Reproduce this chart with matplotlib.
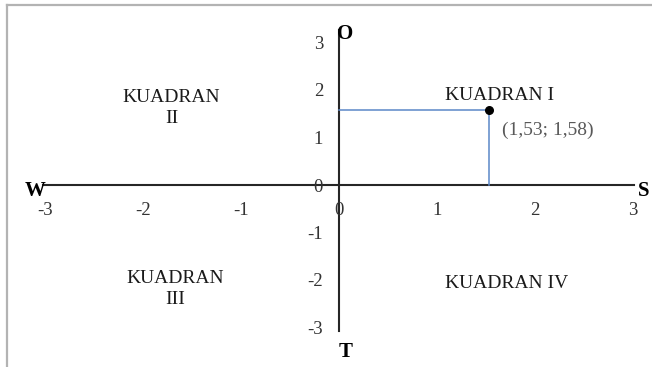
import matplotlib
matplotlib.use("Agg")
import matplotlib.pyplot as plt
from matplotlib.lines import Line2D
from matplotlib.transforms import ScaledTranslation

# Data
x_ticks = [-3, -2, -1, 0, 1, 2, 3]
y_ticks = [-3, -2, -1, 0, 1, 2, 3]
point_x = [1.53]
point_y = [1.58]
point_label = "(1,53; 1,58)"
quadrant_labels = ["KUADRAN I", "KUADRAN\nII", "KUADRAN\nIII", "KUADRAN IV"]
quadrant_pos = [(1.64, 1.89), (-1.71, 1.62), (-1.67, -2.19), (1.71, -2.07)]
dir_labels = ["W", "S", "O", "T"]

plt.rcParams['font.family'] = ['Liberation Serif', 'DejaVu Serif']

W, H = 652, 367
fig = plt.figure(figsize=(W / 100, H / 100), dpi=100)
ax = fig.add_axes([0, 0, 1, 1])

# scale: origin at pixel (339,185); 98 px per x unit, 47.5 px per y unit
ox, oy, sx, sy = 339, 185, 98.0, 47.5
ax.set_xlim(-ox / sx, (W - ox) / sx)
ax.set_ylim(-(H - oy) / sy, oy / sy)

for s in ['top', 'right']:
    ax.spines[s].set_visible(False)
ax.spines['left'].set_position('zero')
ax.spines['bottom'].set_position('zero')
ax.spines['left'].set_bounds(-3.07, 3.26)
ax.spines['bottom'].set_bounds(-3.02, 3.01)
for s in ['left', 'bottom']:
    ax.spines[s].set_color('#262626')
    ax.spines[s].set_linewidth(1.5)
    ax.spines[s].set_zorder(1)

ax.set_xticks(x_ticks)
ax.set_yticks(y_ticks)
ax.set_xticklabels([str(v) for v in x_ticks])
ax.set_yticklabels([str(v) for v in y_ticks])
ax.tick_params(axis='x', length=0, pad=12.5, labelsize=13.5, labelcolor='#333333')
ax.tick_params(axis='y', length=0, pad=11.5, labelsize=13.5, labelcolor='#333333')
ax.patch.set_alpha(0)

# Guide lines to the point
ax.plot([0, point_x[0]], [point_y[0], point_y[0]], color='#5b87c8', lw=1.1, zorder=2)
ax.plot([point_x[0], point_x[0]], [0, point_y[0]], color='#5b87c8', lw=1.1, zorder=2)
ax.scatter(point_x, point_y, s=30, color='black', zorder=3)
ax.annotate(point_label, (point_x[0], point_y[0]), xytext=(9.5, -15),
            textcoords='offset points', ha='left', va='center',
            fontsize=14, color='#595959')

for lab, (qx, qy) in zip(quadrant_labels, quadrant_pos):
    ax.text(qx, qy, lab, ha='center', va='center', fontsize=14,
            color='#1a1a1a', linespacing=1.35)

# Direction labels
ax.text(-3.02, 0, "W", ha='right', va='center', fontsize=15, fontweight='bold',
        transform=ax.transData + ScaledTranslation(0.03, -0.06, fig.dpi_scale_trans))
ax.text(3.01, 0, "S", ha='left', va='center', fontsize=15, fontweight='bold',
        transform=ax.transData + ScaledTranslation(0.04, -0.06, fig.dpi_scale_trans))
ax.text(0, 3.26, "O", ha='left', va='center', fontsize=15, fontweight='bold',
        transform=ax.transData + ScaledTranslation(-0.02, -0.04, fig.dpi_scale_trans))
ax.text(0, -3.07, "T", ha='left', va='top', fontsize=15, fontweight='bold',
        transform=ax.transData + ScaledTranslation(0.0, -0.11, fig.dpi_scale_trans))

# Frame border (top and left)
fig.add_artist(Line2D([7 / W, 1], [1 - 5 / H, 1 - 5 / H], transform=fig.transFigure,
                      color='#b3b3b3', lw=1.6))
fig.add_artist(Line2D([7 / W, 7 / W], [0, 1 - 5 / H], transform=fig.transFigure,
                      color='#b3b3b3', lw=1.6))

fig.savefig("out.png", dpi=100)
